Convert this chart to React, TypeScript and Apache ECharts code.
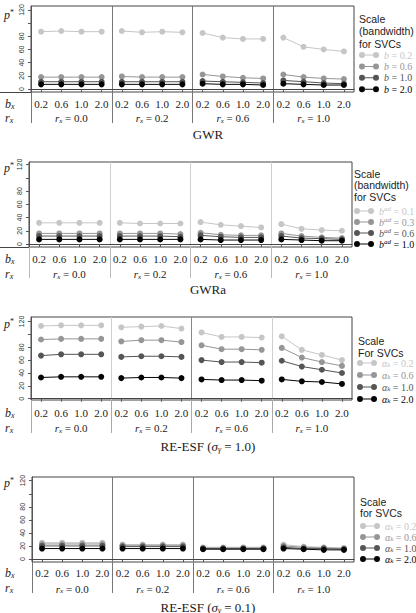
import React, { useEffect, useRef } from 'react';
import * as echarts from 'echarts';

// ---------- data ----------
const bxLabels = ['0.2', '0.6', '1.0', '2.0'];
const rxLabels = ['0.0', '0.2', '0.6', '1.0'];
const yLabelValues = [0, 20, 40, 60, 80, 120];
const yTickValues = [0, 20, 40, 60, 80, 100, 120];

// GWR (4 sections r_x x 4 b_x)
const gwrB02 = [87, 88, 87, 87, 88, 86, 87, 86, 85, 78, 76, 76, 78, 64, 60, 57];
const gwrB06 = [18, 18, 18, 18, 19, 18, 18, 18, 22, 19, 17, 16, 22, 18, 16, 15];
const gwrB10 = [11, 11, 11, 11, 11, 11, 11, 11, 12, 11, 10, 9, 13, 11, 9, 8];
const gwrB20 = [7, 7, 7, 7, 7, 7, 7, 7, 8, 7, 7, 6, 8, 7, 6, 6];

// GWRa
const gwraAd01 = [32, 32, 32, 32, 32, 31, 31, 31, 33, 29, 27, 25, 30, 23, 21, 20];
const gwraAd03 = [16, 16, 16, 16, 16, 16, 16, 15, 17, 14, 13, 13, 16, 12, 10, 9];
const gwraAd06 = [12, 12, 12, 12, 12, 12, 12, 11, 13, 11, 10, 10, 12, 9, 8, 7];
const gwraAd10 = [7, 7, 7, 7, 7, 7, 7, 7, 7, 6, 6, 6, 7, 6, 5, 5];

// RE-ESF (sigma = 1.0)
const esf1A02 = [113, 114, 114, 114, 111, 112, 113, 109, 103, 96, 96, 95, 97, 76, 68, 60];
const esf1A06 = [92, 93, 93, 93, 89, 91, 91, 88, 83, 77, 77, 76, 79, 64, 57, 51];
const esf1A10 = [67, 69, 69, 69, 65, 66, 66, 65, 60, 57, 57, 56, 59, 50, 45, 40];
const esf1A20 = [33, 34, 34, 34, 32, 33, 33, 32, 30, 29, 29, 28, 30, 27, 26, 23];

// RE-ESF (sigma = 0.1)
const esf01A02 = [25, 25, 25, 25, 22, 22, 22, 22, 18, 18, 18, 18, 22, 19, 18, 17];
const esf01A06 = [23, 23, 23, 23, 21, 21, 21, 21, 17, 17, 17, 17, 20, 18, 17, 16];
const esf01A10 = [20, 20, 20, 20, 19, 19, 19, 19, 16, 16, 16, 16, 18, 16, 16, 15];
const esf01A20 = [16, 16, 16, 16, 16, 16, 16, 16, 15, 15, 15, 15, 16, 15, 14, 14];

const gwrLegend = ['0.2', '0.6', '1.0', '2.0'];
const gwraLegend = ['0.1', '0.3', '0.6', '1.0'];
const esfLegend = ['0.2', '0.6', '1.0', '2.0'];

const panelTitles = ['GWR', 'GWRa', 'RE-ESF|1.0', 'RE-ESF|0.1'];

// ---------- styles ----------
const colors = ['#c6c6c6', '#969696', '#555555', '#050505'];
const serif = "'Liberation Serif', 'DejaVu Serif', serif";
const sans = "'Liberation Sans', Arial, sans-serif";
const iconPath =
  'path://M0,3A3,3,0,1,1,6,3A3,3,0,1,1,0,3Z M14,3A3,3,0,1,1,20,3A3,3,0,1,1,14,3Z M6,2.5L14,2.5L14,3.5L6,3.5Z';

const rich = (size: number, lh: number = size + 1) => ({
  n: { fontFamily: serif, fontSize: size, fontWeight: 'normal', lineHeight: lh },
  i: { fontFamily: serif, fontSize: size, fontWeight: 'normal', fontStyle: 'italic', lineHeight: lh },
  s: { fontFamily: serif, fontSize: Math.round(size * 0.65), fontWeight: 'normal', fontStyle: 'italic', verticalAlign: 'bottom', lineHeight: Math.round(size * 0.6) },
  sup: { fontFamily: serif, fontSize: Math.round(size * 0.65), fontWeight: 'normal', fontStyle: 'italic', verticalAlign: 'top', lineHeight: Math.round(size * 0.6) },
});

const panels = [
  { series: [gwrB02, gwrB06, gwrB10, gwrB20], legendVals: gwrLegend, kind: 'b' },
  { series: [gwraAd01, gwraAd03, gwraAd06, gwraAd10], legendVals: gwraLegend, kind: 'bad' },
  { series: [esf1A02, esf1A06, esf1A10, esf1A20], legendVals: esfLegend, kind: 'a' },
  { series: [esf01A02, esf01A06, esf01A10, esf01A20], legendVals: esfLegend, kind: 'a' },
];

const layout = [
  { left: 31, right: 354, top: 6, bottom: 92, ymin: -4.6, ymax: 126, bMargin: 6.5, rMargin: 20, tickLen: 31,
    split: ['#444', '#777', '#777', '#777', '#444'], tickColor: '#777', extend: true, titleTop: 128,
    header: ['Scale', '(bandwidth)', 'for SVCs'], headerX: 359, headerTop: 13, headerLH: 12.3,
    legendX: 359, legendTop: 49.5, legendGap: 0.4, pY: 15, bRow: 104, rRow: 118 },
  { left: 29, right: 352, top: 162, bottom: 247, ymin: -4.5, ymax: 123.8, bMargin: 6.5, rMargin: 21, tickLen: 31,
    split: ['#444', '#cfcfcf', '#cfcfcf', '#cfcfcf', '#444'], tickColor: '#bbb', extend: true, titleTop: 283,
    header: ['Scale', '(bandwidth)', 'for SVCs'], headerX: 354, headerTop: 168, headerLH: 11.5,
    legendX: 354, legendTop: 205.5, legendGap: 0, pY: 168, bRow: 259, rRow: 274 },
  { left: 31, right: 352, top: 317, bottom: 400, ymin: -2, ymax: 127, bMargin: 7, rMargin: 22, tickLen: 33,
    split: ['#444', '#cfcfcf', '#888', '#cfcfcf', '#444'], tickColor: '#aaa', extend: false, titleTop: 439,
    header: ['Scale', 'For SVCs'], headerX: 358, headerTop: 335, headerLH: 12,
    legendX: 357, legendTop: 357.5, legendGap: 1, pY: 324, bRow: 413, rRow: 428 },
  { left: 32, right: 354, top: 477, bottom: 562, ymin: -4.6, ymax: 125.7, bMargin: 5.5, rMargin: 20.5, tickLen: 31,
    split: ['#444', '#777', '#777', '#777', '#444'], tickColor: '#777', extend: false, titleTop: 600,
    header: ['Scale', 'for SVCs'], headerX: 360, headerTop: 496, headerLH: 11.5,
    legendX: 360, legendTop: 520.5, legendGap: 0, pY: 483, bRow: 573, rRow: 588 },
];

function legendLabel(kind: string, v: string) {
  if (kind === 'b') return `{i|b}{n| = ${v}}`;
  if (kind === 'bad') return `{i|b}{sup|ad}{n| = ${v}}`;
  return `{i|α}{s|k}{n| = ${v}}`;
}

function titleText(t: string) {
  if (t.indexOf('|') < 0) return t;
  const [name, v] = t.split('|');
  return `{n|${name} (}{i|σ}{s|γ}{n| = ${v})}`;
}

function buildOption() {
  const categories: string[] = [];
  rxLabels.forEach((_, s) => bxLabels.forEach((b) => categories.push(`${s}_${b}`)));

  const grid: any[] = [];
  const xAxis: any[] = [];
  const yAxis: any[] = [];
  const series: any[] = [];
  const legend: any[] = [];
  const title: any[] = [];
  const graphic: any[] = [];

  panels.forEach((panel, p) => {
    const L = layout[p];
    grid.push({
      left: L.left, top: L.top, width: L.right - L.left, height: L.bottom - L.top,
      show: true, borderColor: '#444', borderWidth: 1, backgroundColor: 'transparent',
    });
    xAxis.push({
      type: 'category', gridIndex: p, position: 'bottom', data: categories, boundaryGap: true,
      axisLine: { show: true, lineStyle: { color: '#444', width: 1 } },
      axisTick: { show: true, alignWithLabel: true, interval: 0, length: 3, lineStyle: { color: '#555' } },
      axisLabel: {
        interval: 0, margin: L.bMargin, fontFamily: serif, fontSize: 11, color: '#222',
        formatter: (v: string) => v.split('_')[1],
      },
      splitLine: { show: false },
    });
    xAxis.push({
      type: 'value', gridIndex: p, position: 'bottom', min: 0, max: 4, interval: 1,
      axisLine: { show: false },
      axisTick: { show: true, customValues: [0, 1, 2, 3], length: L.tickLen, lineStyle: { color: L.tickColor } },
      axisLabel: {
        customValues: [0.5, 1.5, 2.5, 3.5], margin: L.rMargin, color: '#222',
        formatter: (v: number) => `{i|r}{s|x}{n| = ${rxLabels[Math.floor(v)]}}`,
        rich: rich(11),
      },
      splitLine: { show: true, lineStyle: { color: L.split, width: 1 } },
    });
    yAxis.push({
      type: 'value', gridIndex: p, min: L.ymin, max: L.ymax,
      axisLine: { show: true, lineStyle: { color: '#555' } },
      axisTick: { show: true, customValues: yTickValues, length: 3, lineStyle: { color: '#555' } },
      axisLabel: {
        customValues: yLabelValues, rotate: 90, fontSize: 7, fontFamily: sans, color: '#333', margin: 6,
      },
      splitLine: { show: false },
    });

    const names: string[] = [];
    panel.series.forEach((vals, g) => {
      const name = `p${p}g${g}`;
      names.push(name);
      rxLabels.forEach((_, s) => {
        const data = categories.map((_, k) => (Math.floor(k / 4) === s ? vals[k] : '-'));
        series.push({
          type: 'line', name, xAxisIndex: 2 * p, yAxisIndex: p, data,
          symbol: 'circle', symbolSize: 6, showSymbol: true,
          itemStyle: { color: colors[g] },
          lineStyle: { color: colors[g], width: 1 },
          z: 2 + g,
        });
      });
    });

    const labelMap: Record<string, string> = {};
    names.forEach((n, g) => { labelMap[n] = legendLabel(panel.kind, panel.legendVals[g]); });

    legend.push({
      orient: 'vertical', left: L.legendX, top: L.legendTop, padding: 0, itemGap: L.legendGap,
      itemWidth: 20, itemHeight: 6, icon: iconPath, selectedMode: false,
      data: names.map((n, g) => ({ name: n, itemStyle: { color: colors[g] }, textStyle: { color: colors[g], rich: rich(10, 11) } })),
      formatter: (name: string) => labelMap[name],
      textStyle: { fontFamily: serif, fontSize: 10, lineHeight: 11, rich: rich(10, 11) },
    });

    title.push({
      text: titleText(panelTitles[p]), left: 'center', top: L.titleTop, padding: 0,
      textStyle: { fontFamily: serif, fontSize: 13, fontWeight: 'normal', color: '#1a1a1a', rich: rich(13) },
    });

    graphic.push({
      type: 'text', left: L.headerX, top: L.headerTop,
      style: { text: L.header.join('\n'), fontFamily: sans, fontSize: 10.5, lineHeight: L.headerLH, fill: '#222' },
    });
    graphic.push({
      type: 'text', x: 4, y: L.pY,
      style: {
        text: '{i|p}{sup|*}', verticalAlign: 'middle', fill: '#222',
        rich: { i: { fontFamily: serif, fontSize: 12, fontStyle: 'italic', lineHeight: 13 }, sup: { fontFamily: serif, fontSize: 8, verticalAlign: 'top', lineHeight: 8 } },
      },
    });
    graphic.push({
      type: 'text', x: 5, y: L.bRow,
      style: { text: '{i|b}{s|x}', verticalAlign: 'middle', fill: '#222', rich: rich(12) },
    });
    graphic.push({
      type: 'text', x: 5, y: L.rRow,
      style: { text: '{i|r}{s|x}', verticalAlign: 'middle', fill: '#222', rich: rich(12) },
    });
    if (L.extend) {
      graphic.push({
        type: 'line', shape: { x1: 0, y1: L.bottom + 0.5, x2: L.left, y2: L.bottom + 0.5 },
        style: { stroke: '#444', lineWidth: 1 },
      });
    }
  });

  return {
    animation: false,
    backgroundColor: '#ffffff',
    grid, xAxis, yAxis, series, legend, title, graphic,
  };
}

export default function App() {
  const ref = useRef<HTMLDivElement>(null);
  useEffect(() => {
    document.body.style.margin = '0';
    const chart = echarts.init(ref.current as HTMLDivElement, null, { renderer: 'svg' });
    chart.setOption(buildOption() as any);
    return () => chart.dispose();
  }, []);
  return <div ref={ref} style={{ width: 416, height: 613 }} />;
}
